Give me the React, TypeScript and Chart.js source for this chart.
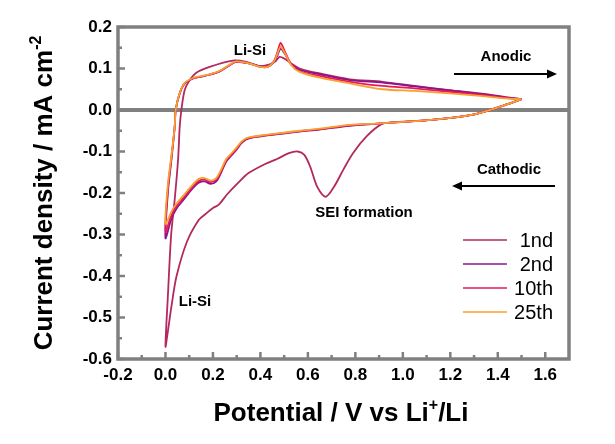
import React, { useEffect, useRef } from "react";
import { Chart, registerables } from "chart.js";

Chart.register(...registerables);

const xTicks = [-0.2, 0.0, 0.2, 0.4, 0.6, 0.8, 1.0, 1.2, 1.4, 1.6];
const yTicks = [-0.6, -0.5, -0.4, -0.3, -0.2, -0.1, 0.0, 0.1, 0.2];
const xMinorTicks = [-0.1, 0.1, 0.3, 0.5, 0.7, 0.9, 1.1, 1.3, 1.5];
const yMinorTicks = [-0.55, -0.45, -0.35, -0.25, -0.15, -0.05, 0.05, 0.15];

const seriesLabels = ["1nd", "2nd", "10th", "25th"];
const seriesColors = ["#B3285E", "#87168E", "#EA1858", "#F7A131"];

// 1st cycle (cathodic scan from 1.5 V to 0 V, then anodic back to 1.5 V)
const c1X = [1.50, 1.41, 1.29, 1.12, 0.95, 0.91, 0.85, 0.79, 0.75, 0.71, 0.675, 0.64, 0.61, 0.585, 0.557, 0.52, 0.47, 0.42, 0.35, 0.31, 0.26, 0.225, 0.20, 0.17, 0.14, 0.09, 0.046, 0.025, 0.011, 0.0,
  0.01, 0.024, 0.039, 0.053, 0.060, 0.067, 0.081, 0.102, 0.13, 0.186, 0.284, 0.34, 0.397, 0.44, 0.465, 0.481, 0.50, 0.53, 0.565, 0.65, 0.776, 0.915, 1.05, 1.196, 1.35, 1.435, 1.50];
const c1Y = [0.026, 0.008, -0.012, -0.024, -0.030, -0.034, -0.062, -0.104, -0.143, -0.185, -0.209, -0.186, -0.137, -0.108, -0.100, -0.104, -0.118, -0.130, -0.152, -0.173, -0.203, -0.228, -0.236, -0.250, -0.265, -0.318, -0.402, -0.474, -0.530, -0.570,
  -0.45, -0.30, -0.215, -0.12, -0.04, 0.0, 0.048, 0.072, 0.090, 0.104, 0.119, 0.116, 0.106, 0.110, 0.118, 0.128, 0.124, 0.112, 0.100, 0.088, 0.074, 0.068, 0.058, 0.048, 0.038, 0.031, 0.026];

// potentials shared by the 2nd, 10th and 25th cycles
const loopX = [1.50, 1.41, 1.29, 1.12, 0.91, 0.776, 0.65, 0.565, 0.494, 0.42, 0.37, 0.34, 0.32, 0.30, 0.28, 0.256, 0.235, 0.214, 0.19, 0.165, 0.14, 0.116, 0.074, 0.046, 0.025, 0.0,
  0.01, 0.025, 0.039, 0.043, 0.06, 0.081, 0.116, 0.144, 0.186, 0.228, 0.27, 0.298, 0.354, 0.40, 0.43, 0.455, 0.472, 0.485, 0.50, 0.53, 0.565, 0.65, 0.776, 0.915, 1.05, 1.196, 1.35, 1.435, 1.50];
const c2Y = [0.026, 0.008, -0.012, -0.024, -0.032, -0.038, -0.047, -0.052, -0.057, -0.062, -0.066, -0.071, -0.080, -0.095, -0.108, -0.124, -0.150, -0.172, -0.178, -0.172, -0.175, -0.188, -0.218, -0.238, -0.262, -0.309,
  -0.20, -0.12, -0.04, 0.0, 0.040, 0.064, 0.076, 0.080, 0.085, 0.093, 0.108, 0.116, 0.112, 0.105, 0.104, 0.114, 0.132, 0.148, 0.138, 0.110, 0.097, 0.086, 0.072, 0.066, 0.057, 0.047, 0.037, 0.030, 0.026];
const c10Y = [0.026, 0.008, -0.012, -0.024, -0.032, -0.037, -0.046, -0.051, -0.056, -0.061, -0.065, -0.070, -0.078, -0.093, -0.106, -0.121, -0.147, -0.168, -0.174, -0.168, -0.171, -0.184, -0.213, -0.232, -0.254, -0.293,
  -0.19, -0.115, -0.04, 0.0, 0.040, 0.064, 0.076, 0.080, 0.085, 0.093, 0.108, 0.116, 0.112, 0.104, 0.104, 0.116, 0.140, 0.162, 0.145, 0.110, 0.094, 0.082, 0.068, 0.058, 0.052, 0.044, 0.035, 0.029, 0.026];
const c25Y = [0.026, 0.008, -0.012, -0.024, -0.032, -0.036, -0.045, -0.050, -0.055, -0.060, -0.064, -0.068, -0.076, -0.090, -0.103, -0.118, -0.143, -0.164, -0.170, -0.164, -0.166, -0.179, -0.207, -0.226, -0.245, -0.274,
  -0.18, -0.11, -0.04, 0.0, 0.041, 0.065, 0.077, 0.081, 0.086, 0.094, 0.109, 0.117, 0.112, 0.104, 0.104, 0.115, 0.136, 0.153, 0.140, 0.108, 0.092, 0.078, 0.064, 0.050, 0.046, 0.040, 0.033, 0.028, 0.026];

const seriesX = [c1X, loopX, loopX, loopX];
const seriesY = [c1Y, c2Y, c10Y, c25Y];

const FONT = '"Liberation Sans", Arial, sans-serif';
const GRAY = "#808080";

const decorPlugin = {
  id: "decor",
  beforeDatasetsDraw(chart: any) {
    const ctx = chart.ctx;
    const { left, right } = chart.chartArea;
    const y0 = chart.scales.y.getPixelForValue(0);
    ctx.save();
    ctx.strokeStyle = GRAY;
    ctx.lineWidth = 4;
    ctx.beginPath();
    ctx.moveTo(left, y0);
    ctx.lineTo(right, y0);
    ctx.stroke();
    ctx.restore();
  },
  afterDraw(chart: any) {
    const ctx = chart.ctx;
    const { left, right, top, bottom } = chart.chartArea;
    const xs = chart.scales.x;
    const ys = chart.scales.y;
    ctx.save();
    // frame
    ctx.strokeStyle = GRAY;
    ctx.lineWidth = 3.5;
    ctx.strokeRect(left, top, right - left, bottom - top);
    // inward ticks
    ctx.lineWidth = 2.5;
    ctx.beginPath();
    xTicks.forEach((v) => {
      const px = xs.getPixelForValue(v);
      ctx.moveTo(px, bottom);
      ctx.lineTo(px, bottom - 7);
    });
    xMinorTicks.forEach((v) => {
      const px = xs.getPixelForValue(v);
      ctx.moveTo(px, bottom);
      ctx.lineTo(px, bottom - 4);
    });
    yTicks.forEach((v) => {
      const py = ys.getPixelForValue(v);
      ctx.moveTo(left, py);
      ctx.lineTo(left + 7, py);
    });
    yMinorTicks.forEach((v) => {
      const py = ys.getPixelForValue(v);
      ctx.moveTo(left, py);
      ctx.lineTo(left + 4, py);
    });
    ctx.stroke();

    // annotations
    ctx.fillStyle = "#000";
    ctx.textAlign = "center";
    ctx.textBaseline = "middle";
    ctx.font = `bold 15px ${FONT}`;
    ctx.fillText("Li-Si", 250, 51);
    ctx.fillText("Anodic", 506, 57);
    ctx.fillText("Cathodic", 509, 170);
    ctx.fillText("SEI formation", 364, 213);
    ctx.fillText("Li-Si", 195, 302);

    // arrows
    const arrow = (x1: number, x2: number, y: number) => {
      ctx.strokeStyle = "#000";
      ctx.lineWidth = 2;
      ctx.beginPath();
      ctx.moveTo(x1, y);
      ctx.lineTo(x2 - Math.sign(x2 - x1) * 6, y);
      ctx.stroke();
      const d = Math.sign(x2 - x1);
      ctx.beginPath();
      ctx.moveTo(x2, y);
      ctx.lineTo(x2 - d * 10, y - 4.5);
      ctx.lineTo(x2 - d * 10, y + 4.5);
      ctx.closePath();
      ctx.fill();
    };
    arrow(454, 557, 74);
    arrow(555, 452, 186);

    // legend
    ctx.font = `20px ${FONT}`;
    ctx.textAlign = "right";
    seriesLabels.forEach((lab, i) => {
      const y = 240 + i * 24;
      ctx.strokeStyle = seriesColors[i];
      ctx.lineWidth = 1.5;
      ctx.beginPath();
      ctx.moveTo(463, y);
      ctx.lineTo(507, y);
      ctx.stroke();
      ctx.fillStyle = "#000";
      ctx.fillText(lab, 553, y + 1);
    });

    // axis titles with superscripts
    const drawSup = (parts: [string, boolean][], cx: number, cy: number, rot: number, size: number) => {
      ctx.save();
      ctx.translate(cx, cy);
      ctx.rotate(rot);
      ctx.textAlign = "left";
      ctx.textBaseline = "alphabetic";
      const big = `bold ${size}px ${FONT}`;
      const small = `bold ${Math.round(size * 0.6)}px ${FONT}`;
      let total = 0;
      parts.forEach(([t, sup]) => {
        ctx.font = sup ? small : big;
        total += ctx.measureText(t).width;
      });
      let x = -total / 2;
      parts.forEach(([t, sup]) => {
        ctx.font = sup ? small : big;
        ctx.fillStyle = "#000";
        ctx.fillText(t, x, sup ? -size * 0.42 : 0);
        x += ctx.measureText(t).width;
      });
      ctx.restore();
    };
    drawSup([["Potential / V vs Li", false], ["+", true], ["/Li", false]], 341, 421, 0, 26);
    drawSup([["Current density / mA cm", false], ["-2", true]], 52, 193, -Math.PI / 2, 26);
    ctx.restore();
  },
};

export default function App() {
  const ref = useRef<HTMLCanvasElement | null>(null);
  useEffect(() => {
    if (!ref.current) return;
    const datasets = seriesLabels.map((lab, i) => ({
      label: lab,
      data: seriesX[i].map((x, j) => ({ x, y: seriesY[i][j] })),
      showLine: true,
      borderColor: seriesColors[i],
      backgroundColor: seriesColors[i],
      borderWidth: 1.8,
      pointRadius: 0,
      tension: 0.3,
      fill: false,
      order: 4 - i,
    }));
    const chart = new Chart(ref.current, {
      type: "scatter",
      data: { datasets },
      options: {
        animation: false,
        responsive: false,
        devicePixelRatio: 1,
        events: [],
        layout: { padding: { top: 27, right: 46, left: 0, bottom: 0 } },
        plugins: { legend: { display: false }, tooltip: { enabled: false } },
        scales: {
          x: {
            type: "linear",
            min: -0.2,
            max: 1.7,
            afterBuildTicks: (s: any) => {
              s.ticks = xTicks.map((v) => ({ value: v }));
            },
            afterFit: (s: any) => {
              s.height = 85;
            },
            grid: { display: false, drawTicks: false },
            border: { display: false },
            ticks: {
              autoSkip: false,
              maxRotation: 0,
              padding: 6,
              color: "#000",
              font: { family: FONT, size: 17, weight: "bold" },
              callback: (v: any) => Number(v).toFixed(1),
            },
          },
          y: {
            type: "linear",
            min: -0.6,
            max: 0.2,
            afterBuildTicks: (s: any) => {
              s.ticks = yTicks.map((v) => ({ value: v }));
            },
            afterFit: (s: any) => {
              s.width = 118;
            },
            grid: { display: false, drawTicks: false },
            border: { display: false },
            ticks: {
              autoSkip: false,
              padding: 6,
              color: "#000",
              font: { family: FONT, size: 17, weight: "bold" },
              callback: (v: any) => Number(v).toFixed(1),
            },
          },
        },
      } as any,
      plugins: [decorPlugin],
    });
    return () => chart.destroy();
  }, []);
  return (
    <div style={{ position: "fixed", left: 0, top: 0, width: 615, height: 444, background: "#fff" }}>
      <canvas ref={ref} width={615} height={444} style={{ width: 615, height: 444 }} />
    </div>
  );
}
